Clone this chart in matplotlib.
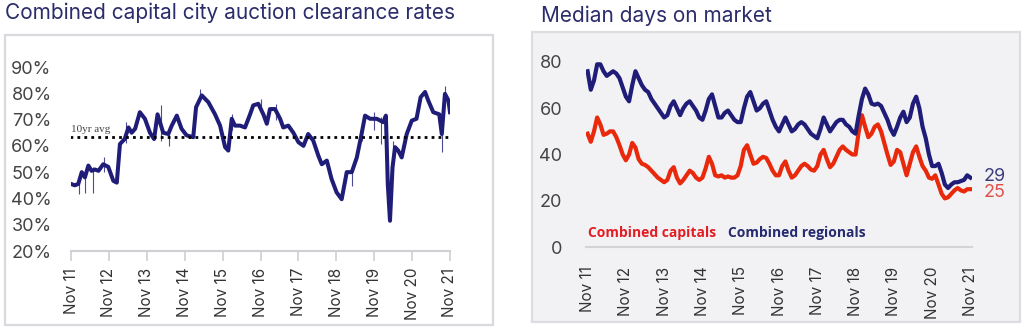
import matplotlib
matplotlib.use("Agg")
import matplotlib.pyplot as plt
from matplotlib.patches import Rectangle

plt.rcParams['font.family'] = ['Inter', 'DejaVu Sans']

# months since Nov 2011
year_ticks = [0, 12, 24, 36, 48, 60, 72, 84, 96, 108, 120]
year_labels = ['Nov 11', 'Nov 12', 'Nov 13', 'Nov 14', 'Nov 15', 'Nov 16',
               'Nov 17', 'Nov 18', 'Nov 19', 'Nov 20', 'Nov 21']

# clearance rate (%), smoothed line
clr_month = [0, 1.2, 2.3, 3.4, 4.4, 5.5, 6.5, 7.6, 8.7, 10.2, 11.8, 13.4, 14.5,
             15.5, 17, 18.2, 19.2, 20.3, 21.8, 23.4, 25, 26.3, 27.4, 29.2, 30.8,
             31.9, 33.5, 35, 36.6, 38.7, 39.6, 41.4, 43.5, 45.6, 47.2, 48.8, 49.8,
             50.9, 51.9, 53.5, 55.1, 56.7, 57.7, 59.3, 60.9, 62, 63, 64.6, 66.2,
             67.2, 68.8, 70.4, 72, 73.6, 75.1, 76.7, 78.3, 79.4, 81, 82.5, 84.1,
             85.7, 86.8, 87.3, 88.9, 90.5, 92, 93.1, 94.7, 96.8, 98.9, 99.7,
             100.3, 101, 101.8, 102.6, 103.6, 104.7, 106.3, 107.9, 109.4, 110.7,
             112.1, 113.1, 114.7, 116.6, 117.4, 118.4, 119.5, 120]
clr_value = [45.5, 45, 45.5, 50, 48, 52.5, 50.5, 51, 50.5, 53, 52, 46.7, 46,
             60.7, 62.6, 67, 65, 66.5, 72.8, 70.3, 65, 62.6, 72, 65, 64.5,
             67.7, 71.5, 66.5, 64, 63.3, 74.7, 79.2, 76.6, 72, 67.7, 59.5, 58.2,
             70.3, 67.7, 67.7, 67, 72, 75.4, 76, 72, 68.4, 74, 74, 70.3,
             67, 67.7, 65, 61.4, 60, 64.5, 62, 56.3, 53, 54.4, 47.4, 42.3,
             39.7, 46.7, 50, 50, 55.6, 64.5, 71.5, 70.3, 70.3, 69, 71.5,
             45.5, 31.5, 51.8, 59.5, 58.2, 55.6, 64.5, 69.6, 70.3, 78.5,
             80.5, 77.3, 72.8, 72, 64.5, 79.8, 77.3, 72.8]

# weekly spikes around the smoothed line
spike_month = [2.5, 4.5, 7, 10.5, 17.5, 28.5, 31, 41, 51, 60, 65, 89, 92,
               96, 98, 102, 117.5, 118.5, 120]
spike_low = [41.6, 42, 42, 50, 61, 62, 60, 77, 66, 72, 70, 44.8, 62,
             66, 60.7, 56, 57.5, 77, 70]
spike_high = [47, 50, 52, 55.6, 69, 75.4, 67, 81.7, 72, 78, 76, 51, 68,
              73, 71, 62, 66, 82.6, 75]

avg_10yr = 63.5

# median days on market, monthly
dom_capitals = [49, 45.5, 50, 56, 53, 48.5, 49, 50, 50, 47.5, 44, 40, 37.5, 40, 45,
                43, 38, 36, 35.5, 34.5, 33, 31.5, 30, 29, 28, 29, 33, 34.5, 30, 27.5,
                29, 31, 33, 32, 30, 29, 30, 34, 39, 36, 31, 30.5, 31, 30, 30.5,
                30, 30, 31, 35, 42, 44, 40, 36, 36.5, 38, 39, 38.5, 36, 33, 31,
                31, 35, 37, 33, 30, 31, 33, 35, 36, 35, 33.5, 33, 35, 40, 42,
                38, 34.5, 36, 39, 42, 43.5, 42, 41, 40, 40, 50, 57, 52, 47.5, 49,
                52, 53, 50, 45, 40, 35.5, 37, 42, 41, 36, 31, 36, 41, 43.5, 39,
                35, 33, 30, 29.5, 31, 27, 23, 21, 21.5, 23, 24.5, 25.5, 24.5, 24, 25,
                25]
dom_regionals = [76, 68, 72, 79, 79, 76, 74, 75, 76, 75, 73, 69, 65, 63, 70,
                 76, 73, 70, 68, 67, 64, 62, 60, 58, 56, 57, 61, 63, 60, 57,
                 60, 62, 63, 61, 59, 56, 55, 59, 64, 66, 61, 56, 56, 58, 59,
                 57, 55, 54, 54, 60, 65, 67, 63, 59, 60, 62, 63, 59, 55, 52,
                 50, 53, 56, 53, 50, 51, 53, 54, 53, 51, 49, 48, 47, 51, 56,
                 53, 50, 52, 54, 55, 55, 53, 52, 50, 49, 57, 64, 68.5, 66, 62,
                 61.5, 62, 61, 58, 55, 51, 48.5, 52, 56, 58.5, 54, 56, 62, 65, 60,
                 52, 47, 40, 35, 35, 36, 32, 27, 25.5, 27, 28, 28, 28.5, 29, 31,
                 30]
dom_month = list(range(len(dom_capitals)))

navy = '#1f1d78'
red = '#e8290b'
W, H = 1024, 327


def box(x0, y0, x1, y1):
    return [x0 / W, 1 - y1 / H, (x1 - x0) / W, (y1 - y0) / H]


fig = plt.figure(figsize=(W / 100, H / 100), dpi=100, facecolor='white')

# panel frames
fig.add_artist(Rectangle((5 / W, 1 - 325 / H), 488 / W, 290 / H, transform=fig.transFigure,
                         facecolor='white', edgecolor='#d9d9de', lw=1.6, zorder=0))
fig.add_artist(Rectangle((532 / W, 1 - 322 / H), 488 / W, 290 / H, transform=fig.transFigure,
                         facecolor='#f2f2f5', edgecolor='#dcdce1', lw=1.6, zorder=0))

fig.text(5 / W, 1 - 13 / H, 'Combined capital city auction clearance rates',
         fontsize=15, color='#2b2c6b', va='center', ha='left')
fig.text(541 / W, 1 - 16 / H, 'Median days on market',
         fontsize=15, color='#2b2c6b', va='center', ha='left')

# ---- left chart
ax = fig.add_axes(box(71, 67, 450, 251))
ax.set_facecolor('none')
ax.vlines(spike_month, spike_low, spike_high, color=navy, lw=0.8, alpha=0.8)
ax.plot(clr_month, clr_value, color=navy, lw=2.9, solid_joinstyle='round')
ax.axhline(avg_10yr, color='black', lw=2, ls=(0, (1, 1.5)), xmin=-0.003, xmax=1)
ax.text(0, avg_10yr + 1.2, '10yr avg', fontsize=8, color='#444444',
        family=['Liberation Serif'], va='bottom', ha='left')
ax.set_xlim(0, 120)
ax.set_ylim(20, 90)
ax.set_yticks([20, 30, 40, 50, 60, 70, 80, 90])
ax.set_yticklabels(['20%', '30%', '40%', '50%', '60%', '70%', '80%', '90%'])
ax.set_xticks(year_ticks)
ax.set_xticklabels(year_labels, rotation=90)
for s in ['top', 'right', 'left']:
    ax.spines[s].set_visible(False)
ax.spines['bottom'].set_color('#cfcfd4')
ax.spines['bottom'].set_linewidth(1.5)
ax.tick_params(axis='y', length=0, pad=14, labelsize=13, labelcolor='#444444')
ax.tick_params(axis='x', length=7, width=1.2, color='#cfcfd4', pad=5,
               labelsize=11, labelcolor='#333333')

# ---- right chart
ax2 = fig.add_axes(box(586, 62, 972, 247))
ax2.set_facecolor('none')
ax2.plot(dom_month, dom_capitals, color=red, lw=3, solid_joinstyle='round')
ax2.plot(dom_month, dom_regionals, color=navy, lw=3, solid_joinstyle='round')
ax2.text(dom_month[-1] + 4, dom_regionals[-1] + 0.5, '29', color='#3b3d7a',
         fontsize=13, va='center', ha='left', clip_on=False)
ax2.text(dom_month[-1] + 4, dom_capitals[-1] - 1.5, '25', color='#e2504a',
         fontsize=13, va='center', ha='left', clip_on=False)
ax2.text(0, 3, 'Combined capitals', color='#e21d23', fontsize=10,
         fontweight='bold', family=['Open Sans'], va='bottom', ha='left')
ax2.text(44, 3, 'Combined regionals', color='#262a6e', fontsize=10,
         fontweight='bold', family=['Open Sans'], va='bottom', ha='left')
ax2.set_xlim(-0.5, 120.5)
ax2.set_ylim(0, 80)
ax2.set_yticks([0, 20, 40, 60, 80])
ax2.set_xticks(year_ticks)
ax2.set_xticklabels(year_labels, rotation=90)
for s in ['top', 'right', 'left']:
    ax2.spines[s].set_visible(False)
ax2.spines['bottom'].set_color('#d4d4d8')
ax2.spines['bottom'].set_linewidth(1.5)
ax2.tick_params(axis='y', length=0, pad=17, labelsize=13, labelcolor='#444444')
ax2.tick_params(axis='x', length=0, pad=14, labelsize=11, labelcolor='#333333')

fig.savefig('out.png', dpi=100, facecolor='white')
